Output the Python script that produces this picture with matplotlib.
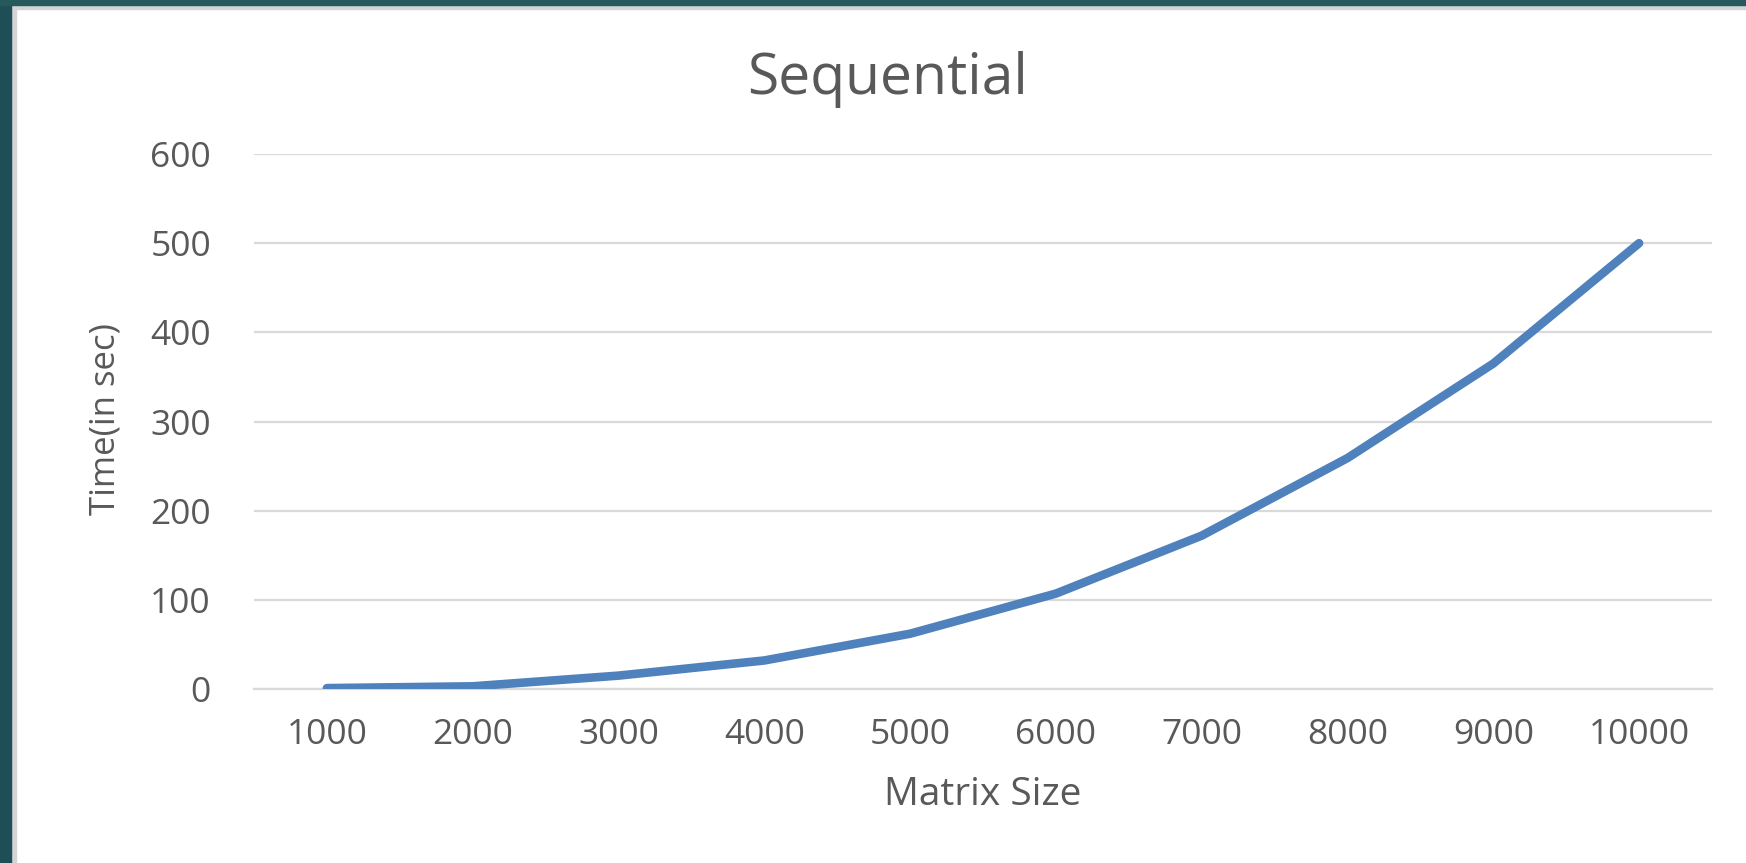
import matplotlib
matplotlib.use('Agg')
from matplotlib import pyplot as plt
from matplotlib import font_manager
from matplotlib.patches import Rectangle


matrix_sizes = ['1000', '2000', '3000', '4000', '5000', '6000', '7000', '8000', '9000', '10000']
times_sec = [1, 3, 15, 32, 62, 107, 172, 259, 365, 500]
y_ticks = [0, 100, 200, 300, 400, 500, 600]

text_color = '#595959'
grid_color = '#d9d9d9'
line_color = '#4f81bd'
teal = '#1e4f57'


def pick_font(names):
	installed = {f.name for f in font_manager.fontManager.ttflist}
	for n in names:
		if n in installed:
			return n
	return 'DejaVu Sans'


def plot_sequential():
	main_font = pick_font(['Open Sans', 'Noto Sans', 'DejaVu Sans'])
	label_font = pick_font(['Liberation Sans Narrow', 'Open Sans'])
	matplotlib.rcParams.update({'font.family': main_font})

	fig = plt.figure(figsize=(17.46, 8.63), dpi=100)
	fig.patch.set_facecolor('white')

	# dark slide border on the left and top, with a faint shadow
	W, H = 1746.0, 863.0
	fig.patches.append(Rectangle((0, 0), 16 / W, 1, transform=fig.transFigure, color='#d4d4d4', zorder=0))
	fig.patches.append(Rectangle((0, 1 - 9 / H), 1, 9 / H, transform=fig.transFigure, color='#d4d4d4', zorder=0))
	fig.patches.append(Rectangle((0, 0), 11 / W, 1, transform=fig.transFigure, color=teal, zorder=1))
	fig.patches.append(Rectangle((0, 1 - 5 / H), 1, 5 / H, transform=fig.transFigure, color='#25595b', zorder=1))

	ax = fig.add_axes([254 / W, 1 - 689 / H, (1712 - 254) / W, (689 - 154) / H])
	x = list(range(len(matrix_sizes)))
	ax.plot(x, times_sec, color=line_color, linewidth=6.2, solid_capstyle='round',
			solid_joinstyle='round', zorder=3)

	ax.set_xlim(-0.5, len(matrix_sizes) - 0.5)
	ax.set_ylim(0, 600)
	ax.set_yticks(y_ticks)
	ax.set_xticks(x)
	ax.set_xticklabels(matrix_sizes)
	ax.yaxis.grid(True, color=grid_color, linewidth=1.6)
	ax.set_axisbelow(True)

	for s in ['top', 'left', 'right']:
		ax.spines[s].set_visible(False)
	ax.spines['bottom'].set_color(grid_color)
	ax.spines['bottom'].set_linewidth(1.6)

	ax.tick_params(axis='both', length=0, labelsize=25.5, labelcolor=text_color)
	ax.tick_params(axis='y', pad=31)
	ax.tick_params(axis='x', pad=21)

	ax.set_xlabel('Matrix Size', fontsize=28, color=text_color, labelpad=17)
	fig.text(106 / W, 1 - 419 / H, 'Time(in sec)', rotation=90, ha='center', va='center',
			 fontsize=30 if label_font != 'Open Sans' else 25, color=text_color, family=label_font)
	fig.text(887 / W, 1 - 80 / H, 'Sequential', ha='center', va='center', fontsize=41, color=text_color)

	plt.savefig('out.png', dpi=100)
	plt.close(fig)


def main():
	plot_sequential()


if __name__ == "__main__":
	main()
